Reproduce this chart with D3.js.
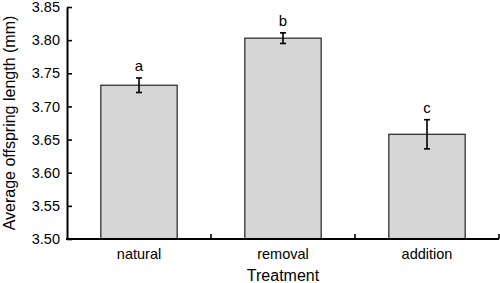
<!DOCTYPE html>
<html>
<head>
<meta charset="utf-8">
<script src="https://cdn.jsdelivr.net/npm/d3@7"></script>
<style>
  html, body { margin: 0; padding: 0; background: #fff; }
  svg { display: block; font-family: 'Liberation Sans', Arial, sans-serif; }
</style>
</head>
<body>
<div id="chart"></div>
<script>
const categories = ['natural', 'removal', 'addition']
const means = [3.732, 3.803, 3.658]
const errors = [0.011, 0.008, 0.022]
const letters = ['a', 'b', 'c']
const yTicks = [3.50, 3.55, 3.60, 3.65, 3.70, 3.75, 3.80, 3.85]

const width = 500
const height = 283
const margin = { top: 7, right: 1, bottom: 44, left: 67 }

const svg = d3.select('#chart').append('svg')
  .attr('width', width)
  .attr('height', height)

const x = d3.scaleBand()
  .domain(categories)
  .range([margin.left, width - margin.right])
  .paddingInner(0.47)
  .paddingOuter(0.235)

const y = d3.scaleLinear()
  .domain([3.5, 3.85])
  .range([height - margin.bottom, margin.top])

// bars
svg.selectAll('rect.bar')
  .data(categories)
  .join('rect')
  .attr('class', 'bar')
  .attr('x', (d) => x(d))
  .attr('y', (d, i) => y(means[i]))
  .attr('width', x.bandwidth())
  .attr('height', (d, i) => y(3.5) - y(means[i]))
  .attr('fill', '#d6d6d6')
  .attr('stroke', '#222')
  .attr('stroke-width', 1.2)

// error bars
const cap = 3
const eb = svg.selectAll('g.err')
  .data(categories)
  .join('g')
  .attr('class', 'err')
  .attr('stroke', '#000')
  .attr('stroke-width', 1.6)

eb.append('line')
  .attr('x1', (d) => x(d) + x.bandwidth() / 2)
  .attr('x2', (d) => x(d) + x.bandwidth() / 2)
  .attr('y1', (d, i) => y(means[i] + errors[i]))
  .attr('y2', (d, i) => y(means[i] - errors[i]))
eb.append('line')
  .attr('x1', (d) => x(d) + x.bandwidth() / 2 - cap)
  .attr('x2', (d) => x(d) + x.bandwidth() / 2 + cap)
  .attr('y1', (d, i) => y(means[i] + errors[i]))
  .attr('y2', (d, i) => y(means[i] + errors[i]))
eb.append('line')
  .attr('x1', (d) => x(d) + x.bandwidth() / 2 - cap)
  .attr('x2', (d) => x(d) + x.bandwidth() / 2 + cap)
  .attr('y1', (d, i) => y(means[i] - errors[i]))
  .attr('y2', (d, i) => y(means[i] - errors[i]))

// significance letters
svg.selectAll('text.letter')
  .data(categories)
  .join('text')
  .attr('class', 'letter')
  .attr('x', (d) => x(d) + x.bandwidth() / 2)
  .attr('y', (d, i) => y(means[i] + errors[i]) - 7)
  .attr('text-anchor', 'middle')
  .attr('font-size', 15)
  .attr('fill', '#000')
  .text((d, i) => letters[i])

// y axis
const yAxis = svg.append('g')
  .attr('transform', `translate(${margin.left},0)`)
  .call(d3.axisLeft(y).tickValues(yTicks).tickFormat(d3.format('.2f')).tickSizeInner(-5).tickSizeOuter(0).tickPadding(7))
yAxis.select('.domain').attr('stroke-width', 2)
yAxis.selectAll('.tick line').attr('stroke-width', 1.6)
yAxis.selectAll('text').attr('font-size', 14.5).attr('fill', '#000')
  .attr('font-family', "'Liberation Sans', Arial, sans-serif")

// x axis
const boundaries = [1, 2, 3].map((k) => margin.left + k * x.step())
const xAxis = svg.append('g')
  .attr('transform', `translate(0,${height - margin.bottom})`)
xAxis.append('line')
  .attr('x1', margin.left - 1)
  .attr('x2', width - margin.right)
  .attr('stroke', '#000')
  .attr('stroke-width', 2)
xAxis.selectAll('line.tk')
  .data(boundaries)
  .join('line')
  .attr('class', 'tk')
  .attr('x1', (d) => d)
  .attr('x2', (d) => d)
  .attr('y1', 0)
  .attr('y2', -5)
  .attr('stroke', '#000')
  .attr('stroke-width', 1.6)
xAxis.selectAll('text.lab')
  .data(categories)
  .join('text')
  .attr('class', 'lab')
  .attr('x', (d) => x(d) + x.bandwidth() / 2)
  .attr('y', 20)
  .attr('text-anchor', 'middle')
  .attr('font-size', 14.5)
  .text((d) => d)

svg.append('text')
  .attr('x', (margin.left + width - margin.right) / 2)
  .attr('y', 281)
  .attr('text-anchor', 'middle')
  .attr('font-size', 16)
  .text('Treatment')

svg.append('text')
  .attr('transform', `translate(15,${(margin.top + height - margin.bottom) / 2}) rotate(-90)`)
  .attr('text-anchor', 'middle')
  .attr('font-size', 16)
  .text('Average offspring length (mm)')
</script>
</body>
</html>
